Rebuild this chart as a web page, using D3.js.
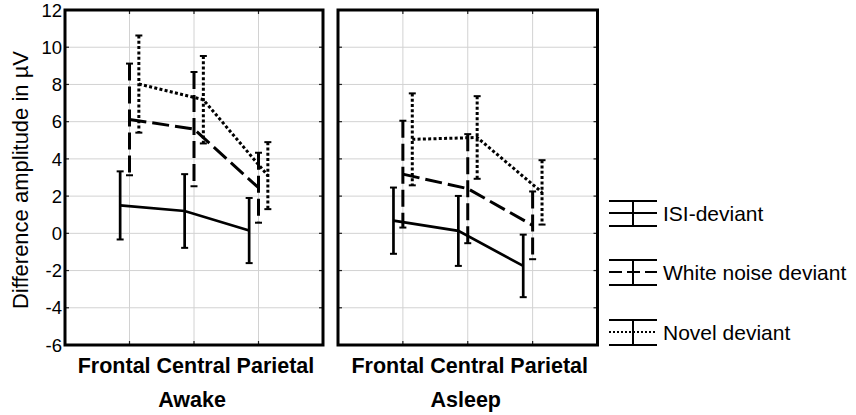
<!DOCTYPE html>
<html>
<head>
<meta charset="utf-8">
<script src="https://cdn.jsdelivr.net/npm/d3@7"></script>
<style>
  html, body { margin: 0; padding: 0; background: #fff; }
  svg { display: block; font-family: "Liberation Sans", Arial, sans-serif; }
</style>
</head>
<body>
<svg id="chart" width="856" height="415"></svg>
<script>
// Electrode sites along each panel's x axis
const sites = ["Frontal", "Central", "Parietal"];
// Recording states, one panel each
const states = ["Awake", "Asleep"];
// Deviant types (legend order)
const deviants = ["ISI-deviant", "White noise deviant", "Novel deviant"];
// y-axis ticks
const yTicks = [-6, -4, -2, 0, 2, 4, 6, 8, 10, 12];

// Mean difference amplitudes (µV), per site
const awakeISI    = [1.50, 1.20, 0.15];
const awakeNoise  = [6.12, 5.60, 2.45];
const awakeNovel  = [8.02, 7.18, 3.10];
const asleepISI   = [0.68, 0.13, -1.75];
const asleepNoise = [3.18, 2.40, 0.43];
const asleepNovel = [5.05, 5.15, 2.20];

// Error bar half-widths (µV), per site
const awakeISIErr    = [1.83, 1.98, 1.75];
const awakeNoiseErr  = [3.00, 3.07, 1.88];
const awakeNovelErr  = [2.61, 2.35, 1.80];
const asleepISIErr   = [1.78, 1.88, 1.68];
const asleepNoiseErr = [2.87, 2.93, 1.82];
const asleepNovelErr = [2.47, 2.22, 1.73];

const panelData = [
  { state: states[0], means: [awakeISI, awakeNoise, awakeNovel],
    errs: [awakeISIErr, awakeNoiseErr, awakeNovelErr] },
  { state: states[1], means: [asleepISI, asleepNoise, asleepNovel],
    errs: [asleepISIErr, asleepNoiseErr, asleepNovelErr] }
];

// Line styles per deviant type
const dashes = [null, "17,6", "3,2.3"];
const widths = [2.7, 3, 3];
const offsets = [-0.145, 0, 0.145];

const svg = d3.select("#chart");
const plotTop = 10, plotBottom = 345;
const panels = [[65, 323], [338, 597.5]];

const y = d3.scaleLinear().domain([-6, 12]).range([plotBottom, plotTop]);

panelData.forEach((p, pi) => {
  const [x0, x1] = panels[pi];
  const x = d3.scaleLinear().domain([0, 4]).range([x0, x1]);
  const g = svg.append("g");

  // grid
  g.selectAll(".hgrid").data(yTicks.slice(1, -1)).join("line")
    .attr("x1", x0).attr("x2", x1)
    .attr("y1", d => y(d)).attr("y2", d => y(d))
    .attr("stroke", "#d2d2d2").attr("stroke-width", 1);
  g.selectAll(".vgrid").data([1, 2, 3]).join("line")
    .attr("x1", d => x(d)).attr("x2", d => x(d))
    .attr("y1", plotTop).attr("y2", plotBottom)
    .attr("stroke", "#d2d2d2").attr("stroke-width", 1);

  // inward tick marks
  const tl = 4;
  yTicks.slice(1, -1).forEach(v => {
    g.append("line").attr("x1", x0).attr("x2", x0 + tl).attr("y1", y(v)).attr("y2", y(v))
      .attr("stroke", "#222").attr("stroke-width", 1.2);
    g.append("line").attr("x1", x1).attr("x2", x1 - tl).attr("y1", y(v)).attr("y2", y(v))
      .attr("stroke", "#222").attr("stroke-width", 1.2);
  });
  [1, 2, 3].forEach(v => {
    g.append("line").attr("x1", x(v)).attr("x2", x(v)).attr("y1", plotBottom).attr("y2", plotBottom - tl)
      .attr("stroke", "#222").attr("stroke-width", 1.2);
    g.append("line").attr("x1", x(v)).attr("x2", x(v)).attr("y1", plotTop).attr("y2", plotTop + tl)
      .attr("stroke", "#222").attr("stroke-width", 1.2);
  });

  // series
  p.means.forEach((vals, si) => {
    const pts = vals.map((v, i) => [x(i + 1 + offsets[si]), y(v)]);
    g.append("path")
      .attr("d", d3.line()(pts))
      .attr("fill", "none").attr("stroke", "#000").attr("stroke-width", widths[si])
      .attr("stroke-dasharray", dashes[si]);
    vals.forEach((v, i) => {
      const cx = x(i + 1 + offsets[si]);
      const e = p.errs[si][i];
      g.append("line")
        .attr("x1", cx).attr("x2", cx).attr("y1", y(v + e)).attr("y2", y(v - e))
        .attr("stroke", "#000").attr("stroke-width", widths[si])
        .attr("stroke-dasharray", dashes[si]);
      [v + e, v - e].forEach(c => {
        g.append("line")
          .attr("x1", cx - 3.5).attr("x2", cx + 3.5).attr("y1", y(c)).attr("y2", y(c))
          .attr("stroke", "#000").attr("stroke-width", 2);
      });
    });
  });

  // frame
  g.append("rect").attr("x", x0).attr("y", plotTop).attr("width", x1 - x0).attr("height", plotBottom - plotTop)
    .attr("fill", "none").attr("stroke", "#000").attr("stroke-width", 3);

  // category labels as a single centred row
  const cx = (x0 + x1) / 2 + 2;
  g.append("text").attr("x", cx).attr("y", 373)
    .attr("text-anchor", "middle").attr("font-weight", "bold").attr("font-size", 21.5)
    .text(sites.join(" "));
  g.append("text").attr("x", cx - 4).attr("y", 407)
    .attr("text-anchor", "middle").attr("font-weight", "bold").attr("font-size", 21.5)
    .text(p.state);
});

// y-axis tick labels
svg.selectAll(".ylab").data(yTicks).join("text")
  .attr("x", 62).attr("y", d => y(d)).attr("dy", "0.36em")
  .attr("text-anchor", "end").attr("font-size", 18.5)
  .text(d => d);

// y-axis title
svg.append("text")
  .attr("transform", "translate(28,180) rotate(-90)")
  .attr("text-anchor", "middle").attr("font-size", 22)
  .text("Difference amplitude in µV");

// legend
const legY = [213, 272, 332];
deviants.forEach((name, i) => {
  const g = svg.append("g").attr("transform", `translate(0,${legY[i]})`);
  g.append("line").attr("x1", 609).attr("x2", 657).attr("y1", -12).attr("y2", -12)
    .attr("stroke", "#000").attr("stroke-width", 2);
  g.append("line").attr("x1", 609).attr("x2", 657).attr("y1", 13).attr("y2", 13)
    .attr("stroke", "#000").attr("stroke-width", 2);
  g.append("line").attr("x1", 633).attr("x2", 633).attr("y1", -12).attr("y2", 13)
    .attr("stroke", "#000").attr("stroke-width", 2);
  g.append("line").attr("x1", 609).attr("x2", 657).attr("y1", 0).attr("y2", 0)
    .attr("stroke", "#000").attr("stroke-width", 2)
    .attr("stroke-dasharray", i === 1 ? "13,5" : i === 2 ? "2,2" : null);
  g.append("text").attr("x", 663).attr("y", 0).attr("dy", "0.36em")
    .attr("font-size", 21).text(name);
});
</script>
</body>
</html>
